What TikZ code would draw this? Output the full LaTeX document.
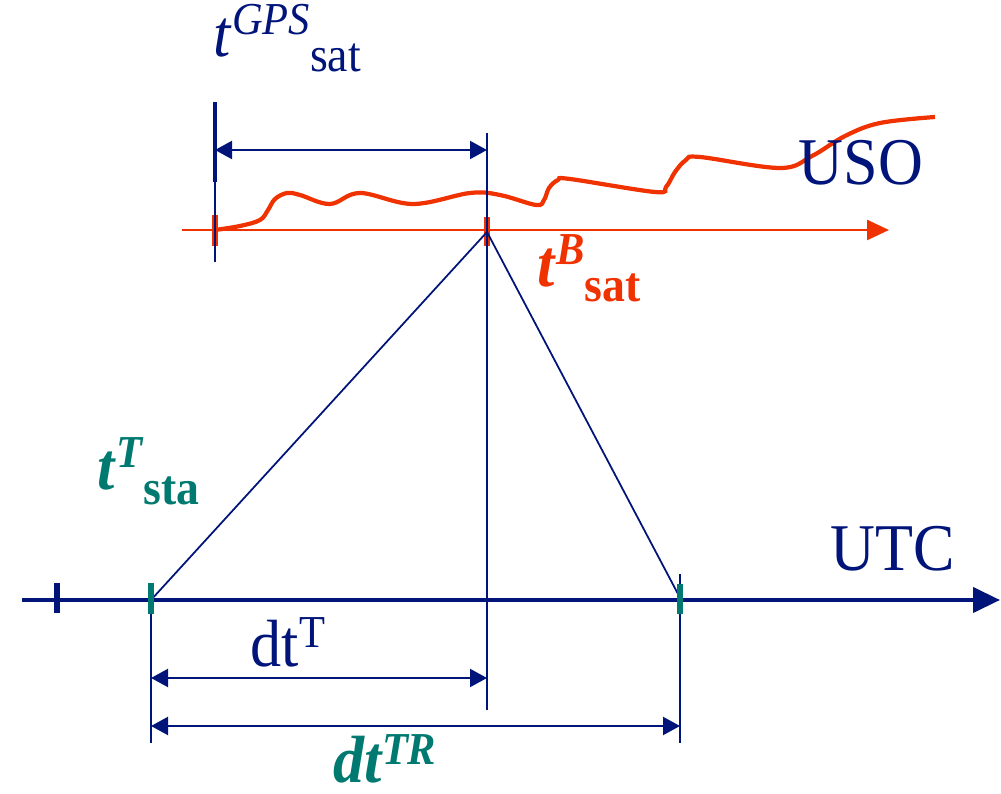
\documentclass[tikz,border=0pt]{standalone}
\usepackage{fontspec}
\setmainfont[FakeStretch=0.93]{Liberation Serif}
\usetikzlibrary{arrows.meta}
\definecolor{NavyTime}{RGB}{0,20,122}
\definecolor{ClockRed}{RGB}{240,50,0}
\definecolor{StaTeal}{RGB}{0,122,112}

\newcommand{\sizedfont}[1]{\fontsize{#1}{#1}\selectfont}
\newcommand{\clocklabel}[3]{#1\raisebox{2.2mm}{\sizedfont{13}#2}\raisebox{-1.5mm}{\sizedfont{14}#3}}

\begin{document}
\begin{tikzpicture}[x=0.1mm, y=-0.1mm,
            utcaxis/.style={NavyTime, line width=1.2pt, -{Triangle[length=2.7mm, width=2.5mm]}},
            usoaxis/.style={ClockRed, line width=0.7pt, -{Triangle[length=2.2mm, width=2mm]}},
            thin/.style={NavyTime, line width=0.5pt},
            span/.style={NavyTime, line width=0.6pt, {Triangle[length=1.7mm, width=1.8mm]}-{Triangle[length=1.7mm, width=1.8mm]}},
            redtick/.style={ClockRed, line width=1.5pt},
            tealtick/.style={StaTeal, line width=1.8pt},
            lab/.style={inner sep=0pt, anchor=base west, font=\sizedfont{19}}
        ]
        \useasboundingbox (0,0) rectangle (1001,794);

        % Points on the two time axes
        \coordinate (gps) at (215,230);
        \coordinate (tb) at (487,232);
        \coordinate (tsta) at (151,600);
        \coordinate (trcv) at (678,594);
        \coordinate (rcv) at (680,600);

        % USO clock axis and its drift
        \draw[ClockRed, line width=1.2pt] plot[smooth, tension=0.6] coordinates {
            (215,230) (240,226) (260,220) (268,210) (275,199) (287,193) (300,195) (330,204) (360,193)
            (413,204) (470,193) (500,195) (536,205) (544,200) (549,188) (558,180) (570,179) (655,192)
            (666,187) (675,172) (686,160) (700,157) (780,168) (812,156) (845,136) (880,123) (935,117)};
        \draw[usoaxis] (182,230) -- (889,230);
        \draw[redtick] ([yshift=1.5mm]gps) -- ([yshift=-1.6mm]gps);
        \draw[redtick] ([yshift=1.5mm]tb) -- ([yshift=-1.4mm]tb);

        % GPS mark and satellite epoch
        \draw[NavyTime, line width=1.4pt] (215,102) -- (215,182);
        \draw[thin] (215,182) -- (215,262);
        \draw[thin] (487,133) -- (487,710);
        \draw[span] (215,150) -- (487,150);

        % Up and down legs
        \draw[thin] (tsta) -- (tb);
        \draw[thin] (tb) -- (trcv);

        % UTC axis
        \draw[utcaxis] (22,600) -- (1000,600);
        \draw[NavyTime, line width=1.6pt] (57,583) -- (57,613);
        \draw[thin] (tsta) -- (151,743);
        \draw[thin] (680,574) -- (680,743);
        \draw[tealtick] ([yshift=1.7mm]tsta) -- ([yshift=-1.4mm]tsta);
        \draw[tealtick] ([yshift=1.6mm]rcv) -- ([yshift=-1.4mm]rcv);
        \draw[span] (151,678) -- (487,678);
        \draw[span] (151,726) -- (680,726);

        % Labels
        \node[lab, text=NavyTime] (gpslab) at (213,57) {\clocklabel{\textit{t}}{\textit{GPS}}{sat}};
        \node[lab, text=NavyTime] (usolab) at (798,185) {USO};
        \node[lab, text=ClockRed] (satlab) at (537,287) {\bfseries\clocklabel{\textit{t}}{\textit{B}}{sat}};
        \node[lab, text=StaTeal] (stalab) at (97,490) {\bfseries\clocklabel{\textit{t}}{\textit{T}}{sta}};
        \node[lab, text=NavyTime] (utclab) at (830,570) {UTC};
        \node[lab, text=NavyTime] (dtlab) at (250,666) {dt\raisebox{1.9mm}{\sizedfont{13}T}};
        \node[lab, text=StaTeal] (dtrlab) at (333,782) {\bfseries\itshape dt\raisebox{1.8mm}{\sizedfont{13}TR}};

        \end{tikzpicture}
\end{document}
